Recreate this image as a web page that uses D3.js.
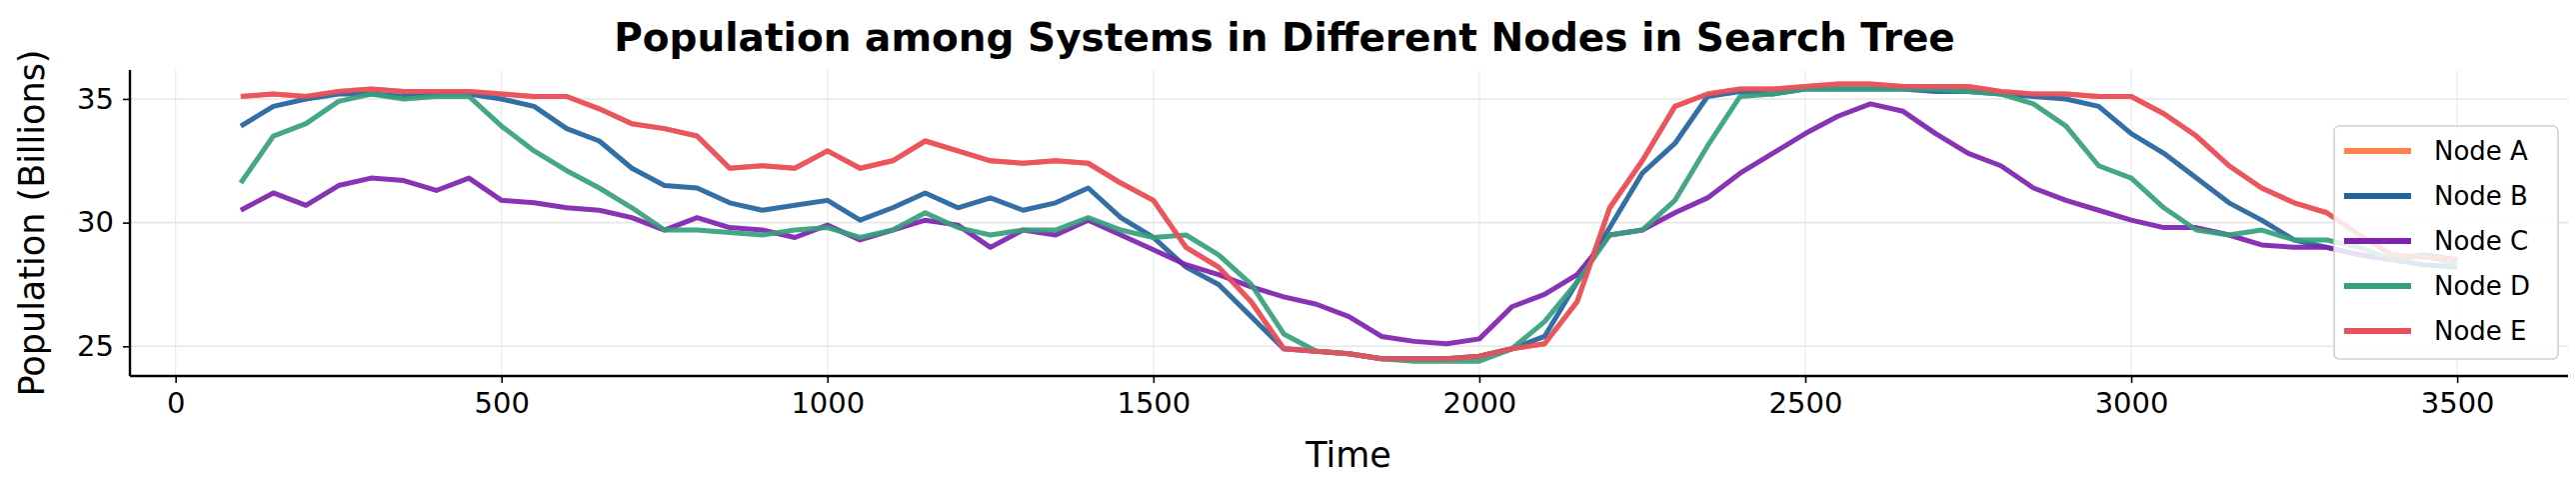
<!DOCTYPE html>
<html><head><meta charset="utf-8">
<script src="https://cdn.jsdelivr.net/npm/d3@7"></script>
<style>body{margin:0;background:#fff}text{font-family:"DejaVu Sans",sans-serif}</style>
</head><body><svg id="chart" width="2577" height="496"></svg>
<script>
// time axis, sampled every 50 units
var times = d3.range(100, 3501, 50);
var nodeNames = ["Node A", "Node B", "Node C", "Node D", "Node E"];
var nodeColors = ["#ff7f4f", "#22639c", "#7d22ad", "#36a07c", "#e8505e"];

var nodeE = [35.1,35.2,35.1,35.3,35.4,35.3,35.3,35.3,35.2,35.1,35.1,34.6,34.0,33.8,33.5,32.2,32.3,32.2,32.9,32.2,32.5,33.3,32.9,32.5,32.4,32.5,32.4,31.6,30.9,29.0,28.2,26.8,24.9,
  24.8,24.7,24.5,24.5,24.5,24.6,24.9,25.1,26.8,30.6,32.5,34.7,35.2,35.4,35.4,35.5,35.6,35.6,35.5,35.5,35.5,35.3,35.2,35.2,35.1,35.1,34.4,33.5,32.3,31.4,30.8,30.4,29.5,28.7,28.6,28.5];
var nodeA = nodeE.slice();
var nodeB = [33.9,34.7,35.0,35.2,35.2,35.1,35.2,35.2,35.0,34.7,33.8,33.3,32.2,31.5,31.4,30.8,30.5,30.7,30.9,30.1,30.6,31.2,30.6,31.0,30.5,30.8,31.4,30.2,29.4,28.2,27.5,26.2,24.9,
  24.8,24.7,24.5,24.5,24.5,24.6,24.9,25.4,27.6,29.8,32.0,33.2,35.1,35.3,35.2,35.4,35.4,35.4,35.4,35.3,35.3,35.2,35.1,35.0,34.7,33.6,32.8,31.8,30.8,30.1,29.3,29.0,28.7,28.5,28.3,28.2];
var nodeC = [30.5,31.2,30.7,31.5,31.8,31.7,31.3,31.8,30.9,30.8,30.6,30.5,30.2,29.7,30.2,29.8,29.7,29.4,29.9,29.3,29.7,30.1,29.9,29.0,29.7,29.5,30.1,29.5,28.9,28.3,27.9,27.4,27.0,
  26.7,26.2,25.4,25.2,25.1,25.3,26.6,27.1,27.9,29.5,29.7,30.4,31.0,32.0,32.8,33.6,34.3,34.8,34.5,33.6,32.8,32.3,31.4,30.9,30.5,30.1,29.8,29.8,29.5,29.1,29.0,29.0,28.7,28.5,28.7,28.5];
var nodeD = [31.6,33.5,34.0,34.9,35.2,35.0,35.1,35.1,33.9,32.9,32.1,31.4,30.6,29.7,29.7,29.6,29.5,29.7,29.8,29.4,29.7,30.4,29.8,29.5,29.7,29.7,30.2,29.7,29.4,29.5,28.7,27.5,25.5,
  24.8,24.7,24.5,24.4,24.4,24.4,24.9,26.0,27.6,29.5,29.7,30.9,33.1,35.1,35.2,35.4,35.4,35.4,35.4,35.4,35.3,35.2,34.8,33.9,32.3,31.8,30.6,29.7,29.5,29.7,29.3,29.3,29.0,28.5,28.7,28.3];
var nodeSeries = [nodeA, nodeB, nodeC, nodeD, nodeE];

var xTicks = [0, 500, 1000, 1500, 2000, 2500, 3000, 3500];
var yTicks = [25, 30, 35];

var margin = {left: 130, right: 2569, top: 70, bottom: 376};
var svg = d3.select("#chart");

var x = d3.scaleLinear().domain([-70, 3670]).range([margin.left, margin.right]);
var y = d3.scaleLinear().domain([23.8, 36.17]).range([margin.bottom, margin.top]);

// grid
svg.append("g").selectAll("line").data(xTicks).join("line")
  .attr("x1", d => x(d)).attr("x2", d => x(d)).attr("y1", margin.top).attr("y2", margin.bottom)
  .attr("stroke", "#ebebeb").attr("stroke-width", 1.2);
svg.append("g").selectAll("line").data(yTicks).join("line")
  .attr("y1", d => y(d)).attr("y2", d => y(d)).attr("x1", margin.left).attr("x2", margin.right)
  .attr("stroke", "#e6e6e6").attr("stroke-width", 1.6);

var line = d3.line().x((d, i) => x(times[i])).y(d => y(d));
nodeSeries.forEach(function (s, k) {
  svg.append("path").attr("d", line(s)).attr("fill", "none")
    .attr("stroke", nodeColors[k]).attr("stroke-width", 5)
    .attr("stroke-opacity", 0.92).attr("stroke-linejoin", "round");
});

// axes
var fmt = d3.format("d");
var xAxis = svg.append("g").attr("transform", "translate(0," + margin.bottom + ")")
  .call(d3.axisBottom(x).tickValues(xTicks).tickFormat(fmt).tickSize(7).tickPadding(9).tickSizeOuter(0));
var yAxis = svg.append("g").attr("transform", "translate(" + margin.left + ",0)")
  .call(d3.axisLeft(y).tickValues(yTicks).tickFormat(fmt).tickSize(7).tickPadding(9).tickSizeOuter(0));
[xAxis, yAxis].forEach(function (a) {
  a.select(".domain").attr("stroke", "#000").attr("stroke-width", 2.4);
  a.selectAll(".tick line").attr("stroke", "#000").attr("stroke-width", 1.6);
  a.selectAll("text").attr("font-size", 29).attr("fill", "#000").attr("font-family", "DejaVu Sans");
});
// only bottom and left spines
xAxis.select(".domain").attr("d", "M" + margin.left + ",0H" + margin.right);
yAxis.select(".domain").attr("d", "M0," + margin.top + "V" + margin.bottom);

svg.append("text").attr("x", 1285).attr("y", 51).attr("text-anchor", "middle")
  .attr("font-size", 39).attr("font-weight", "bold").text("Population among Systems in Different Nodes in Search Tree");
svg.append("text").attr("x", 1349).attr("y", 467).attr("text-anchor", "middle")
  .attr("font-size", 35).text("Time");
svg.append("text").attr("transform", "translate(44,223) rotate(-90)").attr("text-anchor", "middle")
  .attr("font-size", 35).text("Population (Billions)");

// legend
var lg = svg.append("g");
lg.append("rect").attr("x", 2335).attr("y", 126).attr("width", 224).attr("height", 233).attr("rx", 5)
  .attr("fill", "#fff").attr("fill-opacity", 0.85).attr("stroke", "#d0d0d0").attr("stroke-width", 1.6);
nodeNames.forEach(function (n, k) {
  var yy = 151 + k * 45;
  lg.append("line").attr("x1", 2345).attr("x2", 2412).attr("y1", yy).attr("y2", yy)
    .attr("stroke", nodeColors[k]).attr("stroke-width", 6);
  lg.append("text").attr("x", 2435).attr("y", yy + 9).attr("font-size", 26).text(n);
});
</script></body></html>
